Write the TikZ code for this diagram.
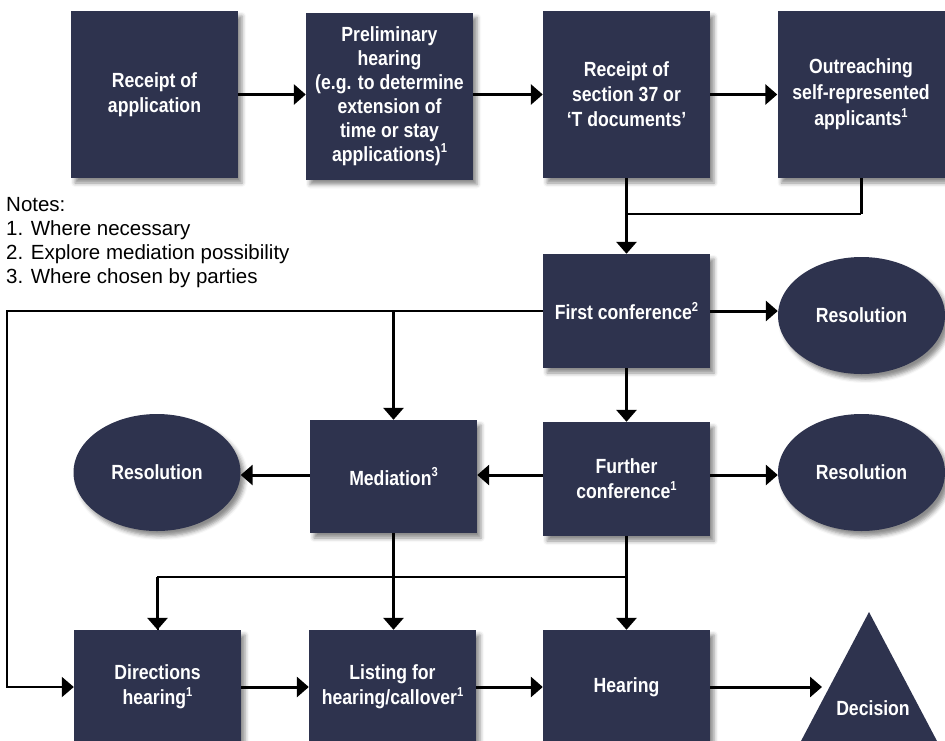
\documentclass[tikz,border=0pt]{standalone}
\usepackage{fontspec}
\setmainfont{Liberation Sans}
\newfontfamily\boxfont[FakeStretch=0.86]{Liberation Sans}
\usetikzlibrary{arrows.meta,shapes.geometric,shadows.blur}
\definecolor{navy}{RGB}{46,51,78}
\newcommand{\supnum}[1]{\raisebox{0.42em}{\fontsize{13}{13}\selectfont #1}}
\tikzset{
  shd/.style={blur shadow={shadow xshift=4pt,shadow yshift=-5pt,shadow blur radius=4pt,shadow opacity=45}},
  boxnode/.style={shd,fill=navy,draw=none,minimum width=167pt,minimum height=114pt,
    text=white,align=center,inner sep=2pt,font=\boxfont\bfseries\fontsize{20.5}{25}\selectfont},
  bigbox/.style={boxnode,minimum height=167pt},
  resnode/.style={shd,ellipse,fill=navy,draw=none,minimum width=167pt,minimum height=117pt,
    text=white,font=\boxfont\bfseries\fontsize{20.5}{25}\selectfont},
  arr/.style={line width=3pt,-{Triangle[length=12pt,width=20pt]}},
  ln/.style={line width=3pt},
  thinln/.style={line width=2pt},
  thinarr/.style={line width=2pt,-{Triangle[length=12pt,width=20pt]}},
}
\begin{document}
\begin{tikzpicture}[x=1pt,y=-1pt]
\path[use as bounding box] (0,0) rectangle (945,740);
\clip (0,0) rectangle (945,740);
% top row
\node[bigbox] (b1) at (154.5,94.5) {Receipt of\\application};
\node[bigbox,font=\boxfont\bfseries\fontsize{20.5}{24}\selectfont] (b2) at (389.5,96) {Preliminary\\hearing\\(e.g. to determine\\extension of\\time or stay\\applications)\supnum{1}};
\node[bigbox] (b3) at (626.5,94.5) {Receipt of\\section 37 or\\‘T documents’};
\node[bigbox,font=\boxfont\bfseries\fontsize{20.5}{26}\selectfont] (b4) at (861,94.5) {Outreaching\\self-represented\\applicants\supnum{1}};
% notes
\node[anchor=north west,align=left,inner sep=0pt,font=\fontsize{20.5}{24}\selectfont] (notes) at (6,197)
  {Notes:\\1. Where necessary\\2. Explore mediation possibility\\3. Where chosen by parties};
% middle
\node[boxnode] (fc) at (626.5,311) {First conference\supnum{2}};
\node[resnode] (r1) at (861.5,315.5) {Resolution};
\node[boxnode] (fuc) at (626.5,479) {Further\\conference\supnum{1}};
\node[resnode] (r2) at (861.5,472.5) {Resolution};
\node[boxnode,minimum height=113pt] (med) at (393.5,476.5) {Mediation\supnum{3}};
\node[resnode] (rl) at (157,472.5) {Resolution};
% bottom row
\node[boxnode] (dir) at (157.5,687) {Directions\\hearing\supnum{1}};
\node[boxnode] (lst) at (392.5,687) {Listing for\\hearing/callover\supnum{1}};
\node[boxnode] (hear) at (626.5,687) {Hearing};
\fill[navy] (869,612) -- (947,760) -- (791,760) -- cycle;
\node[text=white,font=\boxfont\bfseries\fontsize{20.5}{25}\selectfont] (dec) at (873,708) {Decision};
\coordinate (decin) at (822,687);
% connectors
\draw[arr] (b1.east) -- (b2.west |- b1.east);
\draw[arr] (b2.east |- b1.east) -- (b3.west);
\draw[arr] (b3.east) -- (b4.west);
\draw[arr] (b3.south) -- (fc.north);
\coordinate (j1) at (626.5,214);
\draw[ln] (b4.south) -- (b4.south |- j1);
\draw[thinln] (b4.south |- j1) -- (j1);
\draw[arr] (fc.east) -- (fc.east -| r1.west);
\coordinate (lx) at (7,0);
\draw[thinarr] (fc.west) -| (lx |- dir.west) -- (dir.west);
\draw[arr] (med.north |- fc.west) -- (med.north);
\draw[arr] (fc.south) -- (fuc.north);
\coordinate (mf) at (0,475);
\draw[arr] (fuc.west |- mf) -- (med.east |- mf);
\draw[arr] (fuc.east |- mf) -- (r2.west |- mf);
\draw[arr] (med.west |- mf) -- (rl.east |- mf);
\draw[arr] (med.south) -- (med.south |- lst.north);
\draw[arr] (fuc.south) -- (hear.north);
\coordinate (j2) at (626.5,577);
\draw[thinln] (j2) -| (dir.north);
\draw[arr] (dir.north |- j2) -- (dir.north);
\draw[arr] (dir.east) -- (lst.west);
\draw[arr] (lst.east) -- (hear.west);
\draw[arr] (hear.east) -- (decin);
\end{tikzpicture}
\end{document}
